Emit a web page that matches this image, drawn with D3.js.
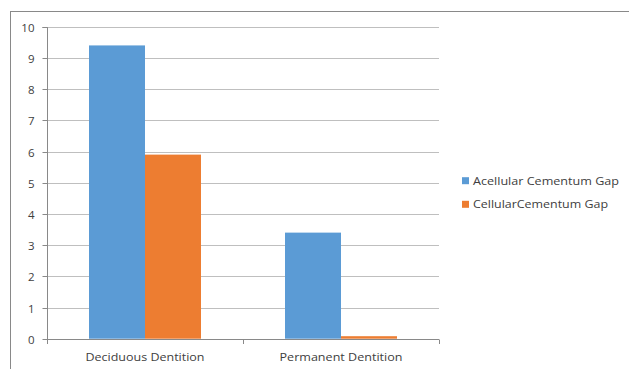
<!DOCTYPE html>
<html><head><meta charset="utf-8">
<script src="https://cdn.jsdelivr.net/npm/d3@7"></script>
<style>body{margin:0;background:#fff}svg{display:block}text{font-family:"Open Sans","Liberation Sans",sans-serif;fill:#404040}</style>
</head><body>
<svg id="c" width="629" height="369"></svg>
<script>
const categories = ["Deciduous Dentition", "Permanent Dentition"];
const seriesNames = ["Acellular Cementum Gap", "CellularCementum Gap"];
const acellular = [9.4, 3.4];
const cellular = [5.9, 0.08];
const yTicks = [0,1,2,3,4,5,6,7,8,9,10];
const colors = ["#5B9BD5", "#ED7D31"];

const svg = d3.select("#c");
// outer chart border (top & left visible)
svg.append("rect").attr("x",10.5).attr("y",11.5).attr("width",640).attr("height",400)
  .attr("fill","none").attr("stroke","#898989").attr("stroke-width",1);

const pLeft=47, pRight=439, pTop=26.7, pBottom=338.7;
const x = d3.scaleBand().domain(categories).range([pLeft,pRight]).paddingInner(0).paddingOuter(0);
const y = d3.scaleLinear().domain([0,10]).range([pBottom,pTop]);
const inner = d3.scaleBand().domain(seriesNames).range([0,x.bandwidth()]).paddingInner(0).paddingOuter(0.75);

// gridlines
svg.append("g").selectAll("line").data(yTicks.filter(d=>d>0)).join("line")
  .attr("x1",pLeft).attr("x2",pRight).attr("y1",d=>Math.round(y(d))+0.5).attr("y2",d=>Math.round(y(d))+0.5)
  .attr("stroke","#bfbfbf");

// y axis
const ya = svg.append("g").attr("transform",`translate(${pLeft+0.5},0)`)
  .call(d3.axisLeft(y).tickValues(yTicks).tickSize(5).tickPadding(8).tickFormat(d3.format("d")));
ya.select(".domain").attr("stroke","#898989").attr("d",`M-5,${Math.round(pTop)+0.5}H0V${Math.round(pBottom)+0.5}`);
ya.selectAll(".tick line").attr("stroke","#898989");
ya.selectAll(".tick").attr("transform",d=>`translate(0,${Math.round(y(d))+0.5})`);
ya.selectAll("text").style("font-size","11.5px").attr("fill","#404040").attr("dy","0.35em");

// bars
const data = categories.map((c,i)=>({c, vals:[acellular[i], cellular[i]]}));
const g = svg.append("g");
data.forEach(d=>{
  d.vals.forEach((v,j)=>{
    g.append("rect").attr("x",x(d.c)+inner(seriesNames[j])).attr("width",inner.bandwidth())
      .attr("y",y(v)).attr("height",pBottom-y(v)).attr("fill",colors[j]);
  });
});

// x axis
const xa = svg.append("g").attr("transform",`translate(0,${Math.round(pBottom)+0.5})`)
  .call(d3.axisBottom(x).tickSize(0).tickPadding(14));
xa.select(".domain").attr("stroke","#898989").attr("d",`M${pLeft},0H${pRight}`);
xa.selectAll("text").style("font-size","11px").attr("fill","#404040")
  .attr("textLength",(d,i)=>[119,123][i]).attr("lengthAdjust","spacingAndGlyphs");
const tickXs = [pLeft, ...categories.slice(1).map(c=>x(c)), pRight];
svg.append("g").selectAll("line").data(tickXs).join("line")
  .attr("x1",d=>Math.round(d)+0.5).attr("x2",d=>Math.round(d)+0.5)
  .attr("y1",Math.round(pBottom)+0.5).attr("y2",Math.round(pBottom)+5)
  .attr("stroke","#898989");

// legend
const lg = svg.append("g");
seriesNames.forEach((s,i)=>{
  const cy = 180.7 + i*23.6;
  lg.append("rect").attr("x",462).attr("y",cy-3.5).attr("width",7).attr("height",7).attr("fill",colors[i]);
  lg.append("text").attr("x",473).attr("y",cy).attr("dy","0.35em").style("font-size","11px").text(s)
    .attr("textLength",[146,135][i]).attr("lengthAdjust","spacingAndGlyphs");
});
</script>
</body></html>
